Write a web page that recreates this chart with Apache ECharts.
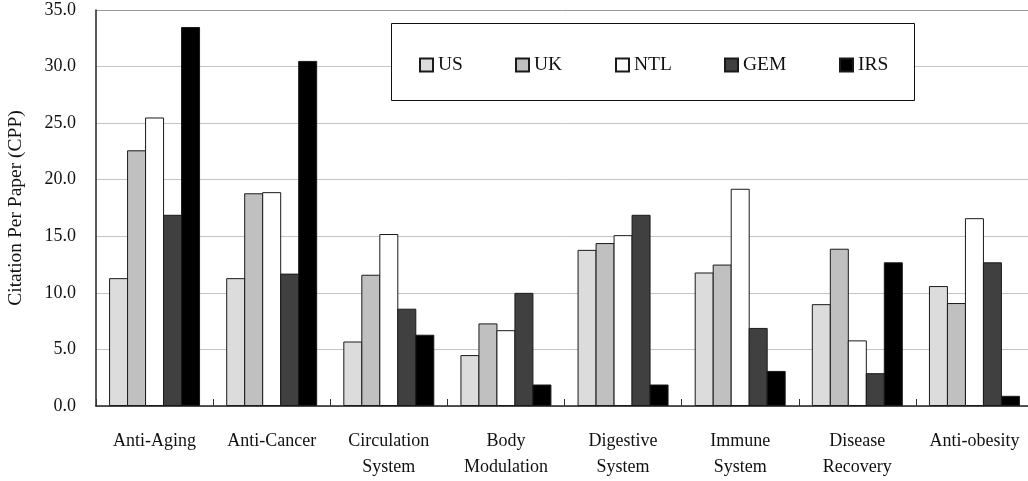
<!DOCTYPE html>
<html>
<head>
<meta charset="utf-8">
<script src="https://cdn.jsdelivr.net/npm/echarts@6/dist/echarts.min.js"></script>
<style>
  html, body { margin: 0; padding: 0; background: #fff; }
  #chart { width: 1028px; height: 481px; }
</style>
</head>
<body>
<div id="chart"></div>
<script>
// Citation per paper by research field and source group
const categories = ['Anti-Aging', 'Anti-Cancer', 'Circulation\nSystem', 'Body\nModulation',
  'Digestive\nSystem', 'Immune\nSystem', 'Disease\nRecovery', 'Anti-obesity'];
const seriesNames = ['US', 'UK', 'NTL', 'GEM', 'IRS'];
const US  = [11.3, 11.3, 5.7, 4.5, 13.8, 11.8, 9.0, 10.6];
const UK  = [22.6, 18.8, 11.6, 7.3, 14.4, 12.5, 13.9, 9.1];
const NTL = [25.5, 18.9, 15.2, 6.7, 15.1, 19.2, 5.8, 16.6];
const GEM = [16.9, 11.7, 8.6, 10.0, 16.9, 6.9, 2.9, 12.7];
const IRS = [33.5, 30.5, 6.3, 1.9, 1.9, 3.1, 12.7, 0.9];
const yTicks = [0, 5, 10, 15, 20, 25, 30, 35];

const values = [US, UK, NTL, GEM, IRS];
const fills = ['#dcdcdc', '#c0c0c0', '#ffffff', '#404040', '#000000'];
const legendLeft = [419, 515, 615, 724, 839];
const FONT = '"Liberation Serif", "Times New Roman", serif';

// gridlines are light grey; the one at the top of the scale is a darker grey
const gridColors = yTicks.map((t, i) => (i === yTicks.length - 1 ? '#999999' : '#c4c4c4'));

const chart = echarts.init(document.getElementById('chart'), null, { renderer: 'canvas' });

const option = {
  animation: false,
  backgroundColor: '#ffffff',
  textStyle: { fontFamily: FONT, color: '#111' },
  grid: { left: 96, top: 10, width: 937, height: 396, containLabel: false, outerBoundsMode: 'none' },
  graphic: [{
    type: 'rect',
    z: 5,
    shape: { x: 391.5, y: 23.5, width: 523, height: 77 },
    style: { fill: '#ffffff', stroke: '#111', lineWidth: 1 }
  }],
  legend: seriesNames.map((n, i) => ({
    z: 10,
    data: [n],
    left: legendLeft[i],
    top: 55,
    icon: 'rect',
    itemWidth: 13,
    itemHeight: 13,
    itemGap: 0,
    textStyle: { fontFamily: FONT, fontSize: 19.5, color: '#111', padding: [2, 0, 0, 0] },
    padding: 0,
    selectedMode: false
  })),
  xAxis: {
    type: 'category',
    data: categories,
    boundaryGap: true,
    axisLine: { lineStyle: { color: '#222', width: 1.5 } },
    axisTick: { show: true, inside: true, length: 7, lineStyle: { color: '#333' } },
    axisLabel: { fontFamily: FONT, fontSize: 18, color: '#111', margin: 22, lineHeight: 26, interval: 0 },
    splitLine: { show: false }
  },
  yAxis: {
    type: 'value',
    min: yTicks[0],
    max: yTicks[yTicks.length - 1],
    interval: yTicks[1] - yTicks[0],
    name: 'Citation Per Paper (CPP)',
    nameLocation: 'middle',
    nameRotate: 90,
    nameGap: 70,
    nameTextStyle: { fontFamily: FONT, fontSize: 19.5, color: '#111' },
    axisLine: { show: true, lineStyle: { color: '#222', width: 1.5 } },
    axisTick: { show: false },
    axisLabel: { fontFamily: FONT, fontSize: 18, color: '#111', margin: 20,
      formatter: v => v.toFixed(1) },
    splitLine: { show: true, lineStyle: { color: gridColors, width: 1 } }
  },
  series: seriesNames.map((n, i) => ({
    name: n,
    type: 'bar',
    data: values[i],
    barGap: '-5.3%',
    barWidth: 19,
    itemStyle: { color: fills[i], borderColor: '#1a1a1a', borderWidth: 1 }
  }))
};

chart.setOption(option);
</script>
</body>
</html>
